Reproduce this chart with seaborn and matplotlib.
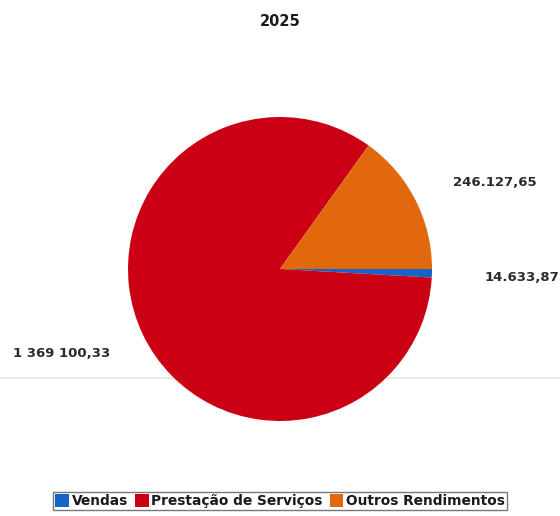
import matplotlib
matplotlib.use("Agg")
import matplotlib.pyplot as plt
import seaborn as sns
from matplotlib.lines import Line2D

categories = ["Vendas", "Prestação de Serviços", "Outros Rendimentos"]
values = [14633.87, 1369100.33, 246127.65]
value_labels = ["14.633,87", "1 369 100,33", "246.127,65"]
title = "2025"

sns.set_theme(style="white")
plt.rcParams['font.family'] = ['DejaVu Sans']
colors = sns.color_palette(["#1565c8", "#cc0014", "#e2680e"])

fig = plt.figure(figsize=(5.6, 5.16), dpi=100)
fig.patch.set_facecolor("white")

# faint horizontal line behind the pie
fig.add_artist(Line2D([0, 1], [1 - 378 / 516, 1 - 378 / 516], color="#e6e6e6", lw=1.2, zorder=0))

L = 1.2
S = 2 * 152 * L
cx, cy = 280, 516 - 269
ax = fig.add_axes([(cx - S / 2) / 560, (cy - S / 2) / 516, S / 560, S / 516])
ax.set_facecolor("none")
wedges, _ = ax.pie(values, colors=colors, startangle=0, counterclock=False,
                   radius=1, wedgeprops=dict(linewidth=0))
ax.set_xlim(-L, L)
ax.set_ylim(-L, L)
ax.set_aspect("equal")
ax.axis("off")

label_pos = [(1.592, -0.053), (-1.434, -0.553), (1.414, 0.572)]
for (x, y), t in zip(label_pos, value_labels):
    ax.text(x, y, t, ha="center", va="center", fontsize=9.5, fontweight="bold",
            color="#2b2b2b", clip_on=False)

fig.text(0.5, 1 - 21 / 516, title, ha="center", va="center", fontsize=10.5,
         fontweight="bold", color="#1a1a1a")

leg = fig.legend(wedges, categories, loc="center", bbox_to_anchor=(0.5, 1 - 501 / 516),
                 ncol=3, frameon=True, fancybox=False, edgecolor="#555555",
                 fontsize=9.9, handlelength=1.0, handleheight=1.1, handletextpad=0.2,
                 columnspacing=0.5, borderpad=0.15, borderaxespad=0.0)
leg.get_frame().set_linewidth(1.0)
for t in leg.get_texts():
    t.set_fontweight("bold")
    t.set_color("#1a1a1a")

fig.savefig("out.png", dpi=100, facecolor="white")
